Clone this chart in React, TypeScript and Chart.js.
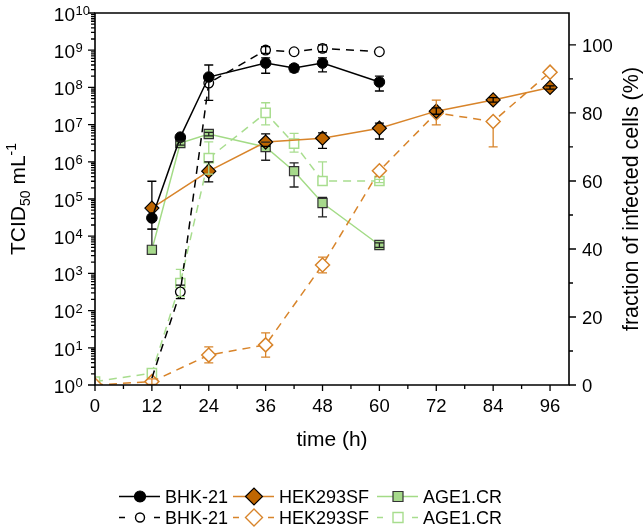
import React, { useEffect, useRef } from 'react';
import { Chart, registerables } from 'chart.js';

Chart.register(...registerables);

const FONT = '"Liberation Sans", Arial, sans-serif';

// ---- Data ----
// x ticks (h)
const xMajorTicks = [0, 12, 24, 36, 48, 60, 72, 84, 96];
const y2MajorTicks = [0, 20, 40, 60, 80, 100];
const yDecades = [0, 1, 2, 3, 4, 5, 6, 7, 8, 9, 10];

// BHK-21 titer (TCID50/mL), solid
const bhkTime = [12, 18, 24, 36, 42, 48, 60];
const bhkTiter = [3.1e4, 4.6e6, 1.9e8, 4.5e8, 3.3e8, 4.5e8, 1.4e8];
const bhkTiterLo = [3.1e4, 4.6e6, 4.5e7, 2.4e8, 2.6e8, 2.6e8, 8.0e7];
const bhkTiterHi = [3.1e4, 4.6e6, 4.0e8, 6.2e8, 4.0e8, 6.2e8, 2.0e8];
// BHK-21 infected fraction (%), dashed
const bhkPctTime = [12, 18, 24, 36, 42, 48, 60];
const bhkPct = [2, 27.4, 88.8, 98.5, 98, 99, 98];
const bhkPctLo = [2, 25.4, 88.8, 97.5, 98, 98, 98];
const bhkPctHi = [2, 29.4, 88.8, 99.5, 98, 100, 98];

// HEK293SF titer, solid
const hekTime = [12, 24, 36, 48, 60, 72, 84, 96];
const hekTiter = [5.7e4, 5.6e5, 3.4e6, 4.3e6, 8.0e6, 2.3e7, 4.6e7, 1.0e8];
const hekTiterLo = [1.55e4, 2.9e5, 2.6e6, 2.3e6, 4.1e6, 1.9e7, 4.0e7, 9.0e7];
const hekTiterHi = [3.0e5, 1.0e6, 5.6e6, 6.0e6, 1.1e7, 2.8e7, 5.3e7, 1.1e8];
// HEK293SF infected fraction (%), dashed
const hekPctTime = [0, 12, 24, 36, 48, 60, 72, 84, 96];
const hekPct = [0, 1, 8.8, 11.8, 35.3, 63, 80, 77.5, 92];
const hekPctLo = [0, 0.2, 6.5, 8.2, 33, 63, 76.5, 70, 92];
const hekPctHi = [0, 1.8, 11.2, 15.3, 37.6, 63, 83.8, 77.5, 92];

// AGE1.CR titer, solid
const ageTime = [12, 18, 24, 36, 42, 48, 60];
const ageTiter = [4.3e3, 3.2e6, 5.6e6, 2.5e6, 5.6e5, 7.8e4, 5.8e3];
const ageTiterLo = [4.3e3, 2.8e6, 5.0e6, 1.1e6, 2.1e5, 3.3e4, 5.0e3];
const ageTiterHi = [1.55e4, 3.6e6, 6.2e6, 3.4e6, 9.3e5, 1.1e5, 6.6e3];
// AGE1.CR infected fraction (%), dashed
const agePctTime = [0, 12, 18, 24, 36, 42, 48, 60];
const agePct = [1, 3.5, 30, 66.7, 80, 71, 60, 60];
const agePctLo = [1, 3.5, 26, 62, 76.5, 68.5, 60, 59.5];
const agePctHi = [1, 3.5, 34, 71.5, 83, 74, 65.6, 60.5];

const seriesNames = ['BHK-21', 'HEK293SF', 'AGE1.CR'];

// ---- Styles ----
const BLACK = '#000000';
const ORANGE_LINE = '#D8842A';
const ORANGE_FILL = '#BF6600';
const GREEN_LINE = '#A3DB86';
const GREEN_FILL = '#A6D98B';
const GREEN_OPEN = '#A8DD8E';

const mk = (xs: number[], ys: number[]) => xs.map((x, i) => ({ x, y: ys[i] }));

function drawMarker(ctx: CanvasRenderingContext2D, kind: string, x: number, y: number, r: number, fill: string, stroke: string, lw: number) {
  ctx.save();
  ctx.beginPath();
  if (kind === 'circle') {
    ctx.arc(x, y, r, 0, Math.PI * 2);
  } else if (kind === 'diamond') {
    ctx.moveTo(x - r, y);
    ctx.lineTo(x, y - r);
    ctx.lineTo(x + r, y);
    ctx.lineTo(x, y + r);
    ctx.closePath();
  } else {
    ctx.rect(x - r, y - r, 2 * r, 2 * r);
  }
  ctx.fillStyle = fill;
  ctx.fill();
  ctx.lineWidth = lw;
  ctx.strokeStyle = stroke;
  ctx.setLineDash([]);
  ctx.stroke();
  ctx.restore();
}

const errorBarPlugin = {
  id: 'errorBars',
  afterDatasetsDraw(chart: any) {
    const ctx: CanvasRenderingContext2D = chart.ctx;
    const dsets = chart.data.datasets;
    for (let i = dsets.length - 1; i >= 0; i--) {
      const ds: any = dsets[i];
      if (!ds.errLo) continue;
      const meta = chart.getDatasetMeta(i);
      const ys = chart.scales[ds.yAxisID];
      const baseR = Array.isArray(ds.pointRadius) ? Math.max(...ds.pointRadius) : ds.pointRadius;
      const r = baseR * (ds.pointStyle === 'circle' ? 1 : ds.pointStyle === 'rect' ? 0.72 : 0.95);
      ctx.save();
      ctx.strokeStyle = ds.errColor;
      ctx.lineWidth = 1.3;
      ctx.setLineDash([]);
      meta.data.forEach((pt: any, j: number) => {
        const lo = ds.errLo[j];
        const hi = ds.errHi[j];
        const v = ds.data[j].y;
        if (lo === v && hi === v) return;
        const px = pt.x;
        const py = pt.y;
        const yHi = ys.getPixelForValue(hi);
        const yLo = ys.getPixelForValue(lo);
        const cap = 4.5;
        ctx.beginPath();
        const small = py - yHi < r && yLo - py < r;
        if (small) {
          ctx.moveTo(px, yHi);
          ctx.lineTo(px, yLo);
        } else {
          if (py - yHi > r) {
            ctx.moveTo(px, yHi);
            ctx.lineTo(px, py - r);
          }
          if (yLo - py > r) {
            ctx.moveTo(px, py + r);
            ctx.lineTo(px, yLo);
          }
        }
        if (hi !== v) {
          ctx.moveTo(px - cap, yHi);
          ctx.lineTo(px + cap, yHi);
        }
        if (lo !== v) {
          ctx.moveTo(px - cap, yLo);
          ctx.lineTo(px + cap, yLo);
        }
        ctx.stroke();
      });
      ctx.restore();
    }
  },
};

const axesPlugin = {
  id: 'axesDecor',
  afterDraw(chart: any) {
    const ctx: CanvasRenderingContext2D = chart.ctx;
    const { left, right, top, bottom } = chart.chartArea;
    const xs = chart.scales.x;
    const ys = chart.scales.y;
    const y2 = chart.scales.y2;
    ctx.save();
    ctx.setLineDash([]);
    ctx.strokeStyle = '#000';
    ctx.fillStyle = '#000';

    // frame
    ctx.lineWidth = 1.6;
    ctx.beginPath();
    ctx.rect(left, top, right - left, bottom - top);
    ctx.stroke();

    // x ticks
    ctx.lineWidth = 1.3;
    ctx.beginPath();
    for (let t = 0; t <= 96; t += 6) {
      const px = xs.getPixelForValue(t);
      const len = t % 12 === 0 ? 6 : 4;
      ctx.moveTo(px, bottom);
      ctx.lineTo(px, bottom + len);
    }
    // left log ticks
    yDecades.forEach((d) => {
      const py = ys.getPixelForValue(Math.pow(10, d));
      ctx.moveTo(left, py);
      ctx.lineTo(left - 7, py);
      if (d < 10) {
        for (let m = 2; m <= 9; m++) {
          const pm = ys.getPixelForValue(m * Math.pow(10, d));
          ctx.moveTo(left, pm);
          ctx.lineTo(left - 4, pm);
        }
      }
    });
    // right ticks
    for (let p = 0; p <= 100; p += 10) {
      const py = y2.getPixelForValue(p);
      const len = p % 20 === 0 ? 7 : 4;
      ctx.moveTo(right, py);
      ctx.lineTo(right + len, py);
    }
    ctx.stroke();

    // x tick labels
    ctx.font = `18.5px ${FONT}`;
    ctx.textAlign = 'center';
    ctx.textBaseline = 'alphabetic';
    xMajorTicks.forEach((t) => {
      ctx.fillText(String(t), xs.getPixelForValue(t), bottom + 27);
    });
    // right tick labels
    ctx.textAlign = 'left';
    y2MajorTicks.forEach((p) => {
      ctx.fillText(String(p), right + 13, y2.getPixelForValue(p) + 6.6);
    });
    // left tick labels 10^n
    yDecades.forEach((d) => {
      const py = ys.getPixelForValue(Math.pow(10, d));
      ctx.font = `19px ${FONT}`;
      ctx.textAlign = 'right';
      ctx.fillText('10', left - 20, py + 7.8);
      ctx.font = `13px ${FONT}`;
      ctx.textAlign = 'left';
      ctx.fillText(String(d), left - 19.5, py + 2);
    });

    // x title
    ctx.font = `21px ${FONT}`;
    ctx.textAlign = 'center';
    ctx.fillText('time (h)', (left + right) / 2, 446);

    // right title
    ctx.save();
    ctx.translate(638, (top + bottom) / 2);
    ctx.rotate(-Math.PI / 2);
    ctx.font = `21.5px ${FONT}`;
    ctx.textAlign = 'center';
    ctx.fillText('fraction of infected cells (%)', 0, 0);
    ctx.restore();

    // left title: TCID50 mL-1
    ctx.save();
    ctx.translate(25, (top + bottom) / 2);
    ctx.rotate(-Math.PI / 2);
    ctx.textAlign = 'left';
    const parts = [
      { t: 'TCID', f: 21, dy: 0 },
      { t: '50', f: 14, dy: 5 },
      { t: ' mL', f: 21, dy: 0 },
      { t: '-1', f: 14, dy: -9 },
    ];
    let total = 0;
    parts.forEach((p) => {
      ctx.font = `${p.f}px ${FONT}`;
      total += ctx.measureText(p.t).width;
    });
    let cx = -total / 2;
    parts.forEach((p) => {
      ctx.font = `${p.f}px ${FONT}`;
      ctx.fillText(p.t, cx, p.dy);
      cx += ctx.measureText(p.t).width;
    });
    ctx.restore();

    // legend
    const x0s = [119, 233, 377];
    const rowY = [496.5, 517.5];
    const kinds = ['circle', 'diamond', 'rect'];
    const lineCols = [BLACK, ORANGE_LINE, GREEN_LINE];
    const fills = [BLACK, ORANGE_FILL, GREEN_FILL];
    const openCols = [BLACK, ORANGE_LINE, GREEN_OPEN];
    const lr = [5.5, 8.5, 5];
    ctx.font = `18px ${FONT}`;
    ctx.textAlign = 'left';
    for (let s = 0; s < 3; s++) {
      const x0 = x0s[s];
      // solid row
      ctx.strokeStyle = lineCols[s];
      ctx.lineWidth = 1.6;
      ctx.beginPath();
      ctx.moveTo(x0, rowY[0]);
      ctx.lineTo(x0 + 41, rowY[0]);
      ctx.stroke();
      drawMarker(ctx, kinds[s], x0 + 21, rowY[0], lr[s], fills[s], s === 2 ? '#333' : BLACK, 1.2);
      ctx.fillStyle = '#000';
      ctx.fillText(seriesNames[s], x0 + 46, rowY[0] + 6.5);
      // dashed row
      ctx.strokeStyle = openCols[s];
      ctx.lineWidth = 1.6;
      ctx.beginPath();
      ctx.moveTo(x0, rowY[1]);
      ctx.lineTo(x0 + 6, rowY[1]);
      ctx.moveTo(x0 + 35, rowY[1]);
      ctx.lineTo(x0 + 41, rowY[1]);
      ctx.stroke();
      drawMarker(ctx, kinds[s], x0 + 21, rowY[1], s === 0 ? 4.5 : lr[s], '#fff', openCols[s], 1.4);
      ctx.fillStyle = '#000';
      ctx.fillText(seriesNames[s], x0 + 46, rowY[1] + 6.5);
    }
    ctx.restore();
  },
};

export default function App() {
  const ref = useRef<HTMLCanvasElement>(null);
  useEffect(() => {
    const datasets: any[] = [
      {
        label: 'BHK-21', data: mk(bhkTime, bhkTiter), yAxisID: 'y',
        borderColor: BLACK, borderWidth: 1.5, pointStyle: 'circle', pointRadius: 5.3,
        pointBackgroundColor: BLACK, pointBorderColor: BLACK, pointBorderWidth: 1,
        errLo: bhkTiterLo, errHi: bhkTiterHi, errColor: BLACK,
      },
      {
        label: 'BHK-21 (%)', data: mk(bhkPctTime, bhkPct), yAxisID: 'y2',
        borderColor: BLACK, borderWidth: 1.5, borderDash: [8, 6], pointStyle: 'circle',
        pointRadius: bhkPctTime.map((t) => (t === 12 ? 0 : 4.8)),
        pointBackgroundColor: '#fff', pointBorderColor: BLACK, pointBorderWidth: 1.3,
        errLo: bhkPctLo, errHi: bhkPctHi, errColor: BLACK,
      },
      {
        label: 'HEK293SF', data: mk(hekTime, hekTiter), yAxisID: 'y',
        borderColor: ORANGE_LINE, borderWidth: 1.5, pointStyle: 'rectRot', pointRadius: 7,
        pointBackgroundColor: ORANGE_FILL, pointBorderColor: BLACK, pointBorderWidth: 1.2,
        errLo: hekTiterLo, errHi: hekTiterHi, errColor: BLACK,
      },
      {
        label: 'HEK293SF (%)', data: mk(hekPctTime, hekPct), yAxisID: 'y2',
        borderColor: ORANGE_LINE, borderWidth: 1.5, borderDash: [8, 6], pointStyle: 'rectRot', pointRadius: 7,
        pointBackgroundColor: '#fff', pointBorderColor: ORANGE_LINE, pointBorderWidth: 1.5,
        errLo: hekPctLo, errHi: hekPctHi, errColor: ORANGE_LINE,
      },
      {
        label: 'AGE1.CR', data: mk(ageTime, ageTiter), yAxisID: 'y',
        borderColor: GREEN_LINE, borderWidth: 1.5, pointStyle: 'rect', pointRadius: 6.5,
        pointBackgroundColor: GREEN_FILL, pointBorderColor: '#333', pointBorderWidth: 1.2,
        errLo: ageTiterLo, errHi: ageTiterHi, errColor: '#222',
      },
      {
        label: 'AGE1.CR (%)', data: mk(agePctTime, agePct), yAxisID: 'y2',
        borderColor: GREEN_OPEN, borderWidth: 1.5, borderDash: [8, 6], pointStyle: 'rect', pointRadius: 6.5,
        pointBackgroundColor: '#fff', pointBorderColor: GREEN_OPEN, pointBorderWidth: 1.5,
        errLo: agePctLo, errHi: agePctHi, errColor: GREEN_OPEN,
      },
    ];
    const chart = new Chart(ref.current as HTMLCanvasElement, {
      type: 'line',
      data: { datasets },
      options: {
        responsive: false,
        animation: false,
        devicePixelRatio: 1,
        layout: { padding: { left: 95, right: 75, top: 13, bottom: 144 } },
        elements: { line: { tension: 0, fill: false } },
        plugins: { legend: { display: false }, tooltip: { enabled: false } },
        scales: {
          x: { type: 'linear', min: 0, max: 100, display: false },
          y: { type: 'logarithmic', min: 1, max: 1e10, display: false },
          y2: { type: 'linear', min: 0, max: 109.4, display: false },
        },
      } as any,
      plugins: [errorBarPlugin, axesPlugin],
    });
    return () => chart.destroy();
  }, []);
  return (
    <div style={{ position: 'fixed', left: 0, top: 0, width: 644, height: 529, background: '#fff' }}>
      <canvas ref={ref} width={644} height={529} style={{ width: 644, height: 529, display: 'block' }} />
    </div>
  );
}
